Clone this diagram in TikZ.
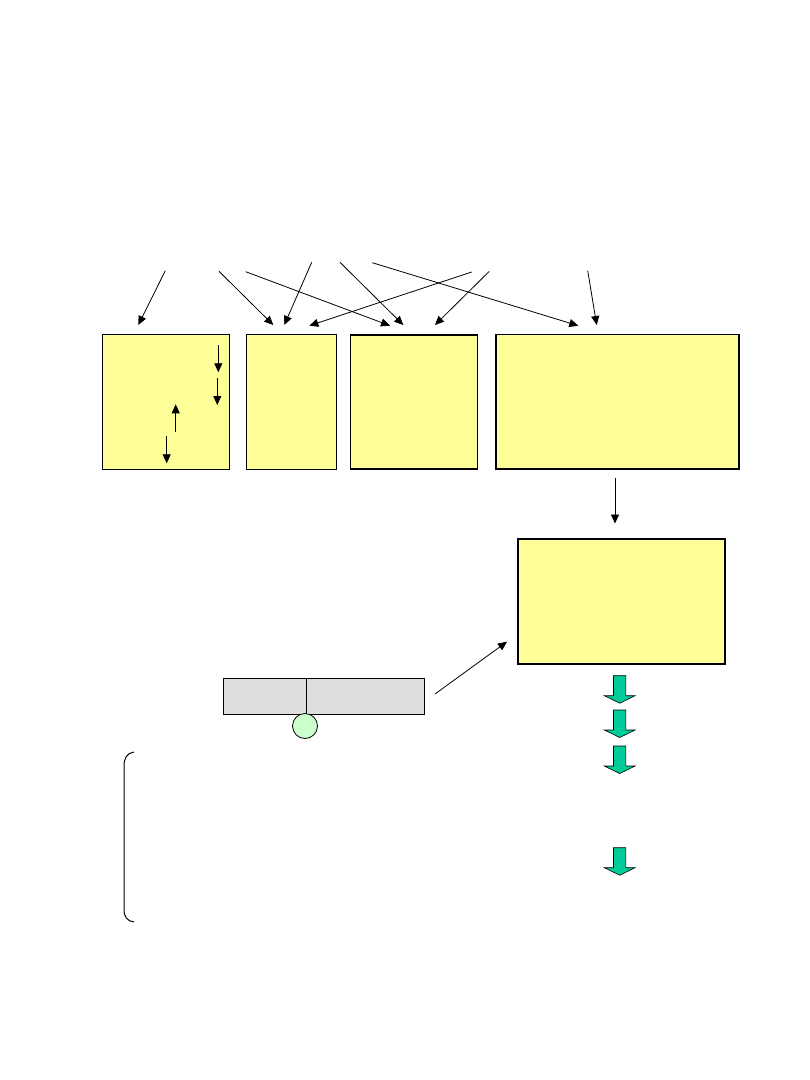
\documentclass[tikz,border=0pt]{standalone}
\usepackage{tikz}
\usetikzlibrary{arrows.meta}

\definecolor{paleyellow}{HTML}{FFFF99}
\definecolor{barGray}{HTML}{DDDDDD}
\definecolor{paleGreen}{HTML}{CCFFCC}
\definecolor{tealGreen}{HTML}{00CC99}

\tikzset{
  ybox/.style={draw,fill=paleyellow,line width=1pt,inner sep=0pt,outer sep=0pt},
  gbox/.style={draw,fill=barGray,line width=0.8pt,inner sep=0pt,outer sep=0pt,minimum height=36pt},
  arr/.style={line width=0.8pt,-{Triangle[length=9pt,width=8pt]}},
  downblock/.pic={\draw[fill=tealGreen,line width=0.6pt] (-6.2,0) -- (6.2,0) -- (6.2,20) -- (15.4,20)
    -- (0,27.5) -- (-15.4,20) -- (-6.2,20) -- cycle;}
}

\begin{document}
\begin{tikzpicture}[x=1pt,y=-1pt]
\useasboundingbox (0,0) rectangle (810,1080);

% yellow boxes
\node[ybox,minimum width=127pt,minimum height=135pt] (b1) at (165.5,401.5) {};
\node[ybox,minimum width=90pt,minimum height=135pt] (b2) at (291,401.5) {};
\node[ybox,line width=1.3pt,minimum width=127pt,minimum height=134pt] (b3) at (414,402) {};
\node[ybox,line width=1.2pt,minimum width=243pt,minimum height=134.5pt] (b4) at (617.5,401.75) {};
\node[ybox,line width=1.2pt,minimum width=207pt,minimum height=125pt] (b5) at (621.5,601.5) {};

% arrows from the top
\coordinate (s1) at (165.3,270.7); \coordinate (t1) at (138.3,325);
\coordinate (s2) at (219,271.3);   \coordinate (t2) at (273.3,325);
\coordinate (s3) at (245.7,271.7); \coordinate (t3) at (390,325.7);
\coordinate (s4) at (311.7,262.3); \coordinate (t4) at (284.3,325);
\coordinate (s5) at (340,262.3);   \coordinate (t5) at (403.3,325);
\coordinate (s6) at (372.3,262.7); \coordinate (t6) at (578.3,325.7);
\coordinate (s7) at (471.7,272);   \coordinate (t7) at (309.3,325.7);
\coordinate (s8) at (489.3,271.3); \coordinate (t8) at (435,325);
\coordinate (s9) at (587.7,270.7); \coordinate (t9) at (596.7,325);
\foreach \i in {1,...,9}
  \draw[arr] (s\i) -- (t\i);

% small arrows inside the first box
\coordinate (m1) at (218.3,345);   \coordinate (n1) at (218.3,372.3);
\coordinate (m2) at (217.3,377.7); \coordinate (n2) at (217.3,405);
\coordinate (m3) at (175.7,431.7); \coordinate (n3) at (175.7,404.3);
\coordinate (m4) at (166.7,435.7); \coordinate (n4) at (166.7,463.3);
\foreach \i in {1,...,4}
  \draw[arr] (m\i) -- (n\i);

\coordinate (d1) at (615,478);
\coordinate (d2) at (615,523.5);
\draw[arr] (d1) -- (d2);

% grey bar with the circle
\node[gbox,minimum width=83pt] (g1) at (264.5,696) {};
\node[gbox,minimum width=118pt] (g2) at (365,696) {};
\node[draw,circle,fill=paleGreen,line width=0.8pt,minimum size=25pt,inner sep=0pt] (c) at (305,726) {};

\coordinate (e1) at (435,694);
\coordinate (e2) at (507,641.7);
\draw[arr] (e1) -- (e2);

% green block arrows
\pic at (619.7,675.7) {downblock};
\pic at (619.7,710) {downblock};
\pic at (619.7,746) {downblock};
\pic at (619.7,847.7) {downblock};

% bracket
\draw[line width=1pt] (134,752) .. controls (127,753) and (124,758) .. (124,766)
  -- (124,909) .. controls (124,917) and (127,921) .. (134,922);
\end{tikzpicture}
\end{document}
